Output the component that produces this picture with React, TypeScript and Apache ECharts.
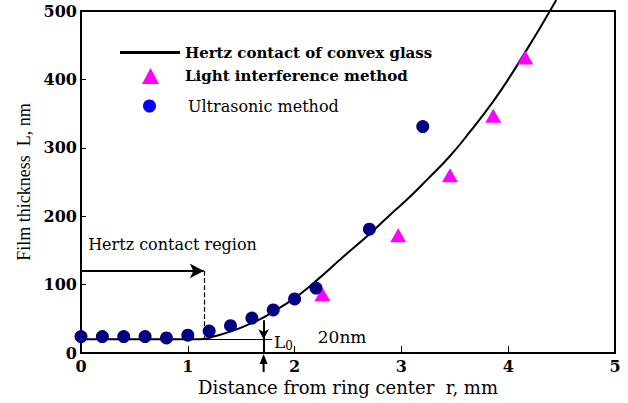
import React, { useEffect, useRef } from "react";
import * as echarts from "echarts";

// Distance from ring center r (mm), film thickness L (nm)
const xTicks = [0, 1, 2, 3, 4, 5];
const yTicks = [0, 100, 200, 300, 400, 500];

const hertzCurve: [number, number][] = [
  [0, 20], [1.05, 20], [1.15, 20.5], [1.24, 24], [1.43, 33], [1.6, 44], [1.71, 52],
  [1.9, 70], [2.05, 86], [2.22, 108], [2.45, 140], [2.71, 175], [2.9, 203],
  [3.05, 224], [3.25, 255], [3.455, 288], [3.65, 325], [3.86, 368],
  [4.0, 400], [4.16, 440], [4.3, 476], [4.45, 516],
];

const lightInterference: [number, number][] = [
  [2.26, 86], [2.97, 172], [3.455, 260], [3.86, 347], [4.16, 432],
];

const ultrasonic: [number, number][] = [
  [0, 24], [0.2, 24], [0.4, 24], [0.6, 24], [0.8, 22], [1.0, 26],
  [1.2, 32], [1.4, 40], [1.6, 51], [1.8, 63], [2.0, 79], [2.2, 95],
  [2.7, 181], [3.2, 331],
];

const seriesNames = [
  "Hertz contact of convex glass",
  "Light interference method",
  "Ultrasonic method",
];

const hertzRegionEnd = 1.15;
const hertzArrowLevel = 120;
const l0Position = 1.71;
const l0Value = 20;
const l0LineEnd = 1.79;

const SERIF = "'Liberation Serif', 'Times New Roman', serif";
const WIDE = "'DejaVu Serif', serif";

export default function App() {
  const ref = useRef<HTMLDivElement>(null);
  useEffect(() => {
    if (!ref.current) return;
    const chart = echarts.init(ref.current, undefined, { renderer: "svg" });
    const black = "#000";
    const legendBase = {
      orient: "vertical",
      padding: 0,
      selectedMode: false,
      itemGap: 0,
    };
    chart.setOption({
      animation: false,
      textStyle: { fontFamily: WIDE },
      grid: {
        left: 81, right: 13, top: 11, bottom: 50,
        show: true, borderColor: black, borderWidth: 2,
      },
      legend: [
        {
          ...legendBase,
          left: 120,
          top: 45,
          itemWidth: 60,
          itemHeight: 3,
          data: [{ name: seriesNames[0], icon: "rect" }],
          textStyle: { fontFamily: WIDE, fontSize: 15, fontWeight: "bold", color: black },
        },
        {
          ...legendBase,
          left: 142,
          top: 68,
          itemWidth: 17,
          itemHeight: 16,
          data: [{ name: seriesNames[1], icon: "triangle" }],
          textStyle: { fontFamily: WIDE, fontSize: 15, fontWeight: "bold", color: black, padding: [0, 0, 0, 21] },
        },
        {
          ...legendBase,
          left: 143,
          top: 98,
          itemWidth: 13,
          itemHeight: 13,
          data: [{ name: seriesNames[2], icon: "circle", itemStyle: { color: "#0000ff" } }],
          textStyle: { fontFamily: WIDE, fontSize: 16, color: black, padding: [0, 0, 0, 27] },
        },
      ],
      xAxis: {
        type: "value",
        min: xTicks[0],
        max: xTicks[xTicks.length - 1],
        interval: 1,
        name: "Distance from ring center  r, mm",
        nameLocation: "middle",
        nameGap: 23,
        nameTextStyle: { fontFamily: WIDE, fontSize: 18, color: black },
        axisLine: { lineStyle: { color: black, width: 2 } },
        axisTick: { inside: true, length: 7, lineStyle: { color: black, width: 1 } },
        axisLabel: { fontFamily: WIDE, fontSize: 16, fontWeight: "bold", color: black, margin: 5 },
        splitLine: { show: false },
      },
      yAxis: {
        type: "value",
        min: yTicks[0],
        max: yTicks[yTicks.length - 1],
        interval: 100,
        name: "Film thickness  L, nm",
        nameLocation: "middle",
        nameGap: 42,
        nameTextStyle: { fontFamily: SERIF, fontSize: 18, color: black },
        axisLine: { lineStyle: { color: black, width: 2 } },
        axisTick: { inside: true, length: 5, lineStyle: { color: black, width: 1 } },
        axisLabel: { fontFamily: WIDE, fontSize: 16, fontWeight: "bold", color: black, margin: 4 },
        splitLine: { show: false },
      },
      series: [
        {
          name: seriesNames[0],
          type: "line",
          data: hertzCurve,
          smooth: 0.5,
          symbol: "none",
          clip: false,
          lineStyle: { color: black, width: 2 },
          itemStyle: { color: black },
          z: 3,
          markLine: {
            silent: true,
            animation: false,
            label: { show: false },
            lineStyle: { color: black, width: 2, type: "solid" },
            data: [
              [
                { coord: [0, hertzArrowLevel], symbol: "none" },
                { coord: [hertzRegionEnd, hertzArrowLevel], symbol: "arrow", symbolSize: [11, 14] },
              ],
              [
                { coord: [hertzRegionEnd, hertzArrowLevel], symbol: "none", lineStyle: { type: "dashed", width: 1.2 } },
                { coord: [hertzRegionEnd, l0Value], symbol: "none" },
              ],
              [
                { coord: [hertzRegionEnd, l0Value], symbol: "none", lineStyle: { width: 1 } },
                { coord: [l0LineEnd, l0Value], symbol: "none" },
              ],
              [
                { coord: [l0Position, 48], symbol: "none" },
                { coord: [l0Position, l0Value], symbol: "arrow", symbolSize: [8, 10] },
              ],
              [
                { coord: [l0Position, l0Value], symbol: "none" },
                { coord: [l0Position, 0], symbol: "none" },
              ],
            ],
          },
          markPoint: {
            silent: true,
            symbol: "circle",
            symbolSize: 0,
            data: [
              {
                coord: [0.02, 159],
                label: {
                  show: true, position: "right", formatter: "Hertz contact region",
                  fontFamily: WIDE, fontSize: 16, color: black,
                },
              },
              {
                coord: [1.76, 16],
                label: {
                  show: true, position: "right", formatter: "{a|L}{b|0}",
                  rich: {
                    a: { fontFamily: WIDE, fontSize: 17, color: black },
                    b: { fontFamily: WIDE, fontSize: 12, color: black, padding: [7, 0, 0, 0] },
                  },
                },
              },
              {
                coord: [2.17, 23],
                label: {
                  show: true, position: "right", formatter: "20nm",
                  fontFamily: WIDE, fontSize: 17, color: black,
                },
              },
            ],
          },
        },
        {
          name: seriesNames[1],
          type: "scatter",
          data: lightInterference,
          symbol: "triangle",
          symbolSize: [16, 14],
          itemStyle: { color: "#ff00ff", opacity: 1 },
          z: 4,
        },
        {
          name: seriesNames[2],
          type: "scatter",
          data: ultrasonic,
          symbol: "circle",
          symbolSize: 13,
          itemStyle: { color: "#000080", opacity: 1 },
          z: 5,
        },
      ],
    });
    // Upward arrow below the x axis marking the L0 position
    const p = chart.convertToPixel({ gridIndex: 0 }, [l0Position, 0]) as number[];
    chart.setOption({
      graphic: [
        {
          type: "line",
          shape: { x1: p[0], y1: p[1] + 6, x2: p[0], y2: p[1] + 19 },
          style: { stroke: black, lineWidth: 2 },
          z: 10,
        },
        {
          type: "polygon",
          shape: { points: [[p[0], p[1] + 1], [p[0] - 4, p[1] + 11], [p[0] + 4, p[1] + 11]] },
          style: { fill: black },
          z: 10,
        },
      ],
    });
    return () => chart.dispose();
  }, []);
  return <div ref={ref} style={{ width: 628, height: 403, position: "absolute", left: 0, top: 0 }} />;
}
